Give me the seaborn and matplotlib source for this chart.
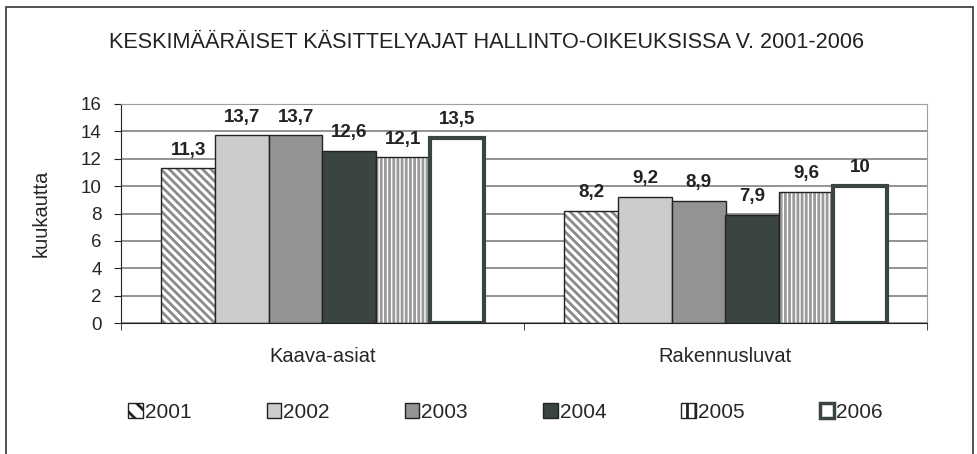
import matplotlib.pyplot as plt
import seaborn as sns
import pandas as pd
from matplotlib.patches import Rectangle

categories = ["Kaava-asiat", "Rakennusluvat"]
years = ["2001", "2002", "2003", "2004", "2005", "2006"]
kaava = [11.3, 13.7, 13.7, 12.6, 12.1, 13.5]
rakennus = [8.2, 9.2, 8.9, 7.9, 9.6, 10.0]
labels_k = ["11,3", "13,7", "13,7", "12,6", "12,1", "13,5"]
labels_r = ["8,2", "9,2", "8,9", "7,9", "9,6", "10"]

rows = []
for y, k, r in zip(years, kaava, rakennus):
    rows.append({"asia": categories[0], "vuosi": y, "kk": k})
    rows.append({"asia": categories[1], "vuosi": y, "kk": r})
df = pd.DataFrame(rows)

fills = ["white", "#cccccc", "#939393", "#3a4442", "white", "white"]
hatches = ["\\\\\\\\", None, None, None, "||||", None]
hatch_cols = ["#8a8a8a", None, None, None, "#9a9a9a", None]
edges = ["#222222", "#222222", "#222222", "#222222", "#222222", "#3a4442"]
edge_w = [1.0, 1.0, 1.0, 1.0, 1.0, 3.0]

sns.set_style("white")
plt.rcParams["font.family"] = ["Liberation Sans", "DejaVu Sans"]
plt.rcParams["hatch.linewidth"] = 2.0

fig = plt.figure(figsize=(9.78, 4.54), dpi=100)
ax = fig.add_axes([121 / 978, 131 / 454, 806 / 978, 219 / 454])

sns.barplot(data=df, x="asia", y="kk", hue="vuosi", order=categories,
            hue_order=years, palette=fills, width=0.8, ax=ax,
            saturation=1, legend=False)

for i, cont in enumerate(ax.containers):
    for bar in cont:
        bar.set_facecolor(fills[i])
        bar.set_edgecolor(edges[i])
        bar.set_linewidth(edge_w[i])
        if hatches[i]:
            bar.set_hatch(hatches[i])
            bar._hatch_color = plt.matplotlib.colors.to_rgba(hatch_cols[i])
    ax.bar_label(cont, labels=[labels_k[i], labels_r[i]], padding=7,
                 fontsize=13.5, fontweight="bold", color="#222222")

ax.set_ylim(0, 16)
ax.set_yticks(range(0, 17, 2))
ax.set_xlim(-0.5, 1.5)
ax.yaxis.grid(True, color="#808080", linewidth=1.2)
ax.set_axisbelow(True)
ax.set_xlabel("")
ax.set_ylabel("kuukautta", fontsize=14.5)
ax.yaxis.set_label_coords(-0.087, 0.5)
ax.tick_params(axis="y", labelsize=13.5, length=5, left=True, color="#222222", pad=9)
ax.tick_params(axis="x", which="major", labelsize=14.5, length=0, pad=17)
ax.set_xticks([-0.5, 0.5, 1.5], minor=True)
ax.tick_params(axis="x", which="minor", length=5, bottom=True, color="#222222")
for s in ["top", "right"]:
    ax.spines[s].set_color("#a0a0a0")
for s in ["left", "bottom"]:
    ax.spines[s].set_color("#222222")

fig.text(0.4975, 1 - 42 / 454, "KESKIMÄÄRÄISET KÄSITTELYAJAT HALLINTO-OIKEUKSISSA V. 2001-2006",
         ha="center", va="center", fontsize=15.6, color="#222222")

handles = []
for i, y in enumerate(years):
    handles.append(Rectangle((0, 0), 1, 1, facecolor=fills[i], edgecolor=edges[i],
                             linewidth=1 if i < 5 else 2.5,
                             hatch=("\\\\" if i == 0 else ("||" if i == 4 else None))))
fig.legend(handles, years, loc="center", bbox_to_anchor=(0.517, 1 - 412 / 454), ncol=6,
           frameon=False, fontsize=15, handlelength=0.7, handleheight=0.7,
           handletextpad=0.1, columnspacing=3.6)

fig.patches.append(Rectangle((6 / 978, -0.02), 967 / 978, 1.0 - 7 / 454 + 0.02,
                             transform=fig.transFigure, fill=False,
                             edgecolor="#333333", linewidth=1.2, clip_on=False))

fig.savefig("out.png", dpi=100)
